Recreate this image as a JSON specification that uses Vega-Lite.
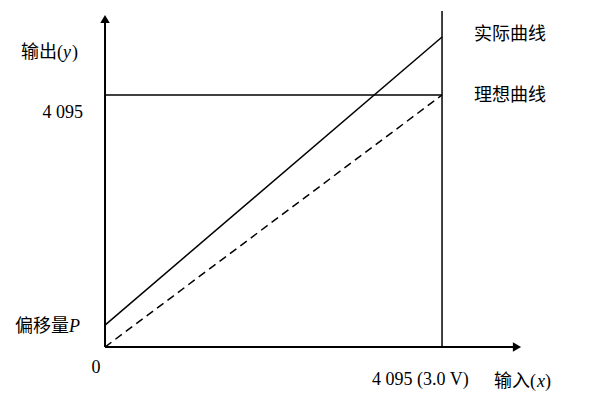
{
  "$schema": "https://vega.github.io/schema/vega-lite/v6.json",
  "width": 604,
  "height": 409,
  "autosize": {"type": "fit", "contains": "padding"},
  "padding": 0,
  "background": "white",
  "config": {"view": {"stroke": null}},
  "datasets": {
    "segs": [
      {"name": "xaxis", "x": 0, "y": 0, "x2": 5006, "y2": 0, "w": 2},
      {"name": "yaxis", "x": 0, "y": 0, "x2": 0, "y2": 5330, "w": 2},
      {"name": "vline", "x": 4095, "y": 0, "x2": 4095, "y2": 5460, "w": 1.5},
      {"name": "hline", "x": 0, "y": 4095, "x2": 4095, "y2": 4095, "w": 1.5},
      {"name": "actual", "x": 0, "y": 357, "x2": 4095, "y2": 5038, "w": 1.5}
    ],
    "ideal": [
      {"name": "ideal", "x": 0, "y": 0, "x2": 4095, "y2": 4095}
    ],
    "arrows": [
      {"shape": "triangle-up", "x": 0, "y": 5330},
      {"shape": "triangle-right", "x": 5006, "y": 0}
    ],
    "labelsRight": [
      {"text": "输出(", "x": -510, "y": 4778},
      {"text": "4 095", "x": -267, "y": 3803},
      {"text": "偏移量", "x": -437, "y": 325}
    ],
    "labelsLeft": [
      {"text": ")", "x": -401, "y": 4778},
      {"text": "4 095 (3.0 V)", "x": 3244, "y": -536},
      {"text": "输入(", "x": 4727, "y": -568},
      {"text": ")", "x": 5345, "y": -568},
      {"text": "实际曲线", "x": 4484, "y": 5070},
      {"text": "理想曲线", "x": 4484, "y": 4079}
    ],
    "labelsItalic": [
      {"text": "y", "x": -510, "y": 4778},
      {"text": "P", "x": -437, "y": 325},
      {"text": "x", "x": 5250, "y": -568}
    ],
    "labelsCenter": [
      {"text": "0", "x": -109, "y": -341}
    ]
  },
  "layer": [
    {
      "data": {"name": "segs"},
      "mark": {"type": "rule", "color": "black"},
      "encoding": {
        "x": {"field": "x", "type": "quantitative", "scale": {"domain": [-1276, 6063], "nice": false, "zero": false}, "axis": null},
        "y": {"field": "y", "type": "quantitative", "scale": {"domain": [-1007, 5639], "nice": false, "zero": false}, "axis": null},
        "x2": {"field": "x2"},
        "y2": {"field": "y2"},
        "strokeWidth": {"field": "w", "type": "quantitative", "scale": null}
      }
    },
    {
      "data": {"name": "ideal"},
      "mark": {"type": "rule", "color": "black", "strokeWidth": 1.5, "strokeDash": [8, 5]},
      "encoding": {
        "x": {"field": "x", "type": "quantitative", "axis": null},
        "y": {"field": "y", "type": "quantitative", "axis": null},
        "x2": {"field": "x2"},
        "y2": {"field": "y2"}
      }
    },
    {
      "data": {"name": "arrows"},
      "mark": {"type": "point", "filled": true, "color": "black", "size": 90, "opacity": 1},
      "encoding": {
        "x": {"field": "x", "type": "quantitative", "axis": null},
        "y": {"field": "y", "type": "quantitative", "axis": null},
        "shape": {"field": "shape", "type": "nominal", "scale": null, "legend": null}
      }
    },
    {
      "data": {"name": "labelsRight"},
      "mark": {"type": "text", "align": "right", "baseline": "middle", "font": "Liberation Serif, Noto Sans CJK SC", "fontSize": 18, "color": "black"},
      "encoding": {
        "x": {"field": "x", "type": "quantitative", "axis": null},
        "y": {"field": "y", "type": "quantitative", "axis": null},
        "text": {"field": "text"}
      }
    },
    {
      "data": {"name": "labelsLeft"},
      "mark": {"type": "text", "align": "left", "baseline": "middle", "font": "Liberation Serif, Noto Sans CJK SC", "fontSize": 18, "color": "black"},
      "encoding": {
        "x": {"field": "x", "type": "quantitative", "axis": null},
        "y": {"field": "y", "type": "quantitative", "axis": null},
        "text": {"field": "text"}
      }
    },
    {
      "data": {"name": "labelsItalic"},
      "mark": {"type": "text", "align": "left", "baseline": "middle", "font": "Liberation Serif", "fontStyle": "italic", "fontSize": 18, "color": "black"},
      "encoding": {
        "x": {"field": "x", "type": "quantitative", "axis": null},
        "y": {"field": "y", "type": "quantitative", "axis": null},
        "text": {"field": "text"}
      }
    },
    {
      "data": {"name": "labelsCenter"},
      "mark": {"type": "text", "align": "center", "baseline": "middle", "font": "Liberation Serif, Noto Sans CJK SC", "fontSize": 18, "color": "black"},
      "encoding": {
        "x": {"field": "x", "type": "quantitative", "axis": null},
        "y": {"field": "y", "type": "quantitative", "axis": null},
        "text": {"field": "text"}
      }
    }
  ]
}
